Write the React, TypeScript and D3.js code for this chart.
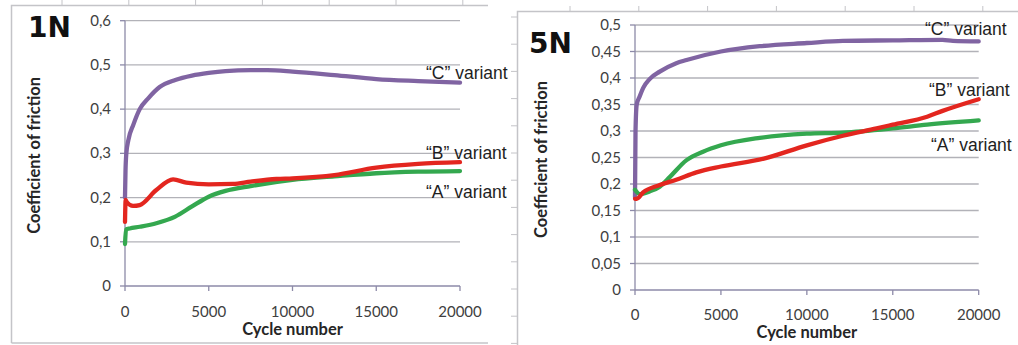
import React from "react";
import * as d3 from "d3";

// ---- 1N test: cycle positions and coefficient of friction ----
const cyclesC1 = [0, 30, 80, 200, 500, 880, 1400, 2070, 3000, 4000, 5000, 6000, 7500, 8500, 10000, 12500, 15000, 17500, 20000];
const frictionC1 = [0.2, 0.26, 0.3, 0.33, 0.365, 0.4, 0.425, 0.45, 0.466, 0.476, 0.482, 0.486, 0.488, 0.488, 0.485, 0.477, 0.468, 0.4635, 0.46];

const cyclesB1 = [0, 40, 100, 480, 880, 1870, 2870, 3660, 5000, 6450, 7500, 9040, 10000, 12500, 15000, 17500, 20000];
const frictionB1 = [0.145, 0.195, 0.19, 0.181, 0.183, 0.217, 0.241, 0.234, 0.23, 0.231, 0.236, 0.242, 0.2435, 0.251, 0.2676, 0.276, 0.28];

const cyclesA1 = [0, 60, 280, 880, 1870, 3000, 4000, 5000, 6000, 7500, 10000, 12500, 15000, 17500, 20000];
const frictionA1 = [0.095, 0.128, 0.13, 0.134, 0.142, 0.157, 0.18, 0.202, 0.215, 0.226, 0.24, 0.248, 0.255, 0.2585, 0.26];

// ---- 5N test ----
const cyclesC5 = [0, 30, 100, 270, 470, 850, 1440, 2400, 3000, 5000, 7260, 10000, 12100, 15000, 17900, 18500, 20000];
const frictionC5 = [0.175, 0.3, 0.35, 0.365, 0.381, 0.398, 0.412, 0.428, 0.434, 0.45, 0.46, 0.466, 0.47, 0.471, 0.472, 0.47, 0.469];

const cyclesB5 = [0, 100, 470, 1440, 2400, 3570, 5000, 7500, 10000, 12100, 14060, 15000, 17000, 17900, 20000];
const frictionB5 = [0.172, 0.172, 0.184, 0.198, 0.208, 0.222, 0.233, 0.248, 0.273, 0.291, 0.305, 0.312, 0.327, 0.338, 0.36];

const cyclesA5 = [0, 270, 850, 1440, 2020, 3000, 3960, 5000, 7260, 10000, 12100, 15000, 17000, 20000];
const frictionA5 = [0.189, 0.181, 0.186, 0.195, 0.213, 0.245, 0.261, 0.273, 0.287, 0.295, 0.297, 0.305, 0.312, 0.32];

const xTicks = [0, 5000, 10000, 15000, 20000];
const yTicks1N = [0, 0.1, 0.2, 0.3, 0.4, 0.5, 0.6];
const yTicks5N = [0, 0.05, 0.1, 0.15, 0.2, 0.25, 0.3, 0.35, 0.4, 0.45, 0.5];

const seriesNames = ["“C” variant", "“B” variant", "“A” variant"];
const colors = { C: "#8064a2", B: "#e3261f", A: "#34a84f" };

const zip = (xs: number[], ys: number[]) => xs.map((x, i) => [x, ys[i]] as [number, number]);

type Panel = {
  title: string;
  titleX: number;
  titleY: number;
  x0: number;
  x1: number;
  yBottom: number;
  yTop: number;
  yMax: number;
  yTicks: number[];
  series: { key: "A" | "B" | "C"; pts: [number, number][] }[];
  labels: { name: string; x: number; y: number }[];
  xLabelY: number;
  xTitleY: number;
  yTitleX: number;
};

const panels: Panel[] = [
  {
    title: "1N",
    titleX: 28,
    titleY: 37,
    x0: 125,
    x1: 460,
    yBottom: 286,
    yTop: 20.7,
    yMax: 0.6,
    yTicks: yTicks1N,
    series: [
      { key: "C", pts: zip(cyclesC1, frictionC1) },
      { key: "A", pts: zip(cyclesA1, frictionA1) },
      { key: "B", pts: zip(cyclesB1, frictionB1) },
    ],
    labels: [
      { name: seriesNames[0], x: 426, y: 79 },
      { name: seriesNames[1], x: 426, y: 159 },
      { name: seriesNames[2], x: 426, y: 198 },
    ],
    xLabelY: 317,
    xTitleY: 335,
    yTitleX: 34,
  },
  {
    title: "5N",
    titleX: 529,
    titleY: 53,
    x0: 635,
    x1: 978.7,
    yBottom: 290,
    yTop: 25,
    yMax: 0.5,
    yTicks: yTicks5N,
    series: [
      { key: "C", pts: zip(cyclesC5, frictionC5) },
      { key: "A", pts: zip(cyclesA5, frictionA5) },
      { key: "B", pts: zip(cyclesB5, frictionB5) },
    ],
    labels: [
      { name: seriesNames[0], x: 925, y: 35 },
      { name: seriesNames[1], x: 929, y: 96 },
      { name: seriesNames[2], x: 931, y: 151 },
    ],
    xLabelY: 320,
    xTitleY: 338,
    yTitleX: 541,
  },
];

const fmt = (v: number) => String(+v.toFixed(2)).replace(".", ",");

const labelFont = "Lato, 'Open Sans', sans-serif";
const noteFont = "'Liberation Sans', Arial, sans-serif";

function FrictionPanel({ p }: { p: Panel }) {
  const x = d3.scaleLinear().domain([0, 20000]).range([p.x0, p.x1]);
  const y = d3.scaleLinear().domain([0, p.yMax]).range([p.yBottom, p.yTop]);
  const line = d3
    .line<[number, number]>()
    .x((d) => x(d[0]))
    .y((d) => y(d[1]))
    .curve(d3.curveMonotoneX);
  const midX = (p.x0 + p.x1) / 2;
  const midY = (p.yBottom + p.yTop) / 2;

  return (
    <g>
      {p.yTicks.map((t) => (
        <g key={t}>
          {t > 0 && (
            <line x1={p.x0} x2={p.x1} y1={y(t)} y2={y(t)} stroke="#b2b2b8" strokeWidth={1.3} />
          )}
          <line x1={p.x0 - 5} x2={p.x0} y1={y(t)} y2={y(t)} stroke="#8d8aa8" strokeWidth={1.3} />
          <text
            x={p.x0 - 14}
            y={y(t) + 5}
            textAnchor="end"
            fontFamily={labelFont}
            fontSize={15}
            fill="#404040"
          >
            {fmt(t)}
          </text>
        </g>
      ))}
      <line x1={p.x0} x2={p.x0} y1={p.yTop} y2={p.yBottom} stroke="#8d8aa8" strokeWidth={1.3} />
      <line x1={p.x0} x2={p.x1} y1={p.yBottom} y2={p.yBottom} stroke="#8d8aa8" strokeWidth={1.3} />
      {xTicks.map((t) => (
        <g key={t}>
          <line x1={x(t)} x2={x(t)} y1={p.yBottom} y2={p.yBottom + 5} stroke="#8d8aa8" strokeWidth={1.3} />
          <text
            x={x(t)}
            y={p.xLabelY}
            textAnchor="middle"
            fontFamily={labelFont}
            fontSize={15}
            fill="#404040"
          >
            {t}
          </text>
        </g>
      ))}
      <text
        x={midX}
        y={p.xTitleY}
        textAnchor="middle"
        fontFamily={labelFont}
        fontWeight="bold"
        fontSize={16.5}
        fill="#262626"
      >
        Cycle number
      </text>
      <text
        transform={`translate(${p.yTitleX + 6},${midY + 2}) rotate(-90)`}
        textAnchor="middle"
        fontFamily={labelFont}
        fontWeight="bold"
        fontSize={16.5}
        fill="#262626"
      >
        Coefficient of friction
      </text>
      {p.series.map((s) => (
        <path
          key={s.key}
          d={line(s.pts) || ""}
          fill="none"
          stroke={colors[s.key]}
          strokeWidth={4.3}
          strokeLinejoin="round"
          strokeLinecap="round"
        />
      ))}
      {p.labels.map((l) => (
        <text key={l.name} x={l.x} y={l.y} fontFamily={noteFont} fontSize={17.5} fill="#1e1e1e">
          {l.name}
        </text>
      ))}
      <text
        x={p.titleX}
        y={p.titleY}
        fontFamily="'DejaVu Sans', sans-serif"
        fontWeight="bold"
        fontSize={28}
        fill="#111"
      >
        {p.title}
      </text>
    </g>
  );
}

export default function App() {
  const frameColor = "#c4c4c8";
  const topTicksLeft = d3.range(62, 470, 66.8);
  const topTicksRight = d3.range(570, 1000, 68.8);
  const sideTicksRight = d3.range(17, 345, 27.2);
  return (
    <svg
      width={1018}
      height={345}
      style={{ position: "fixed", left: 0, top: 0, background: "#fff" }}
    >
      <rect width={1018} height={345} fill="#fff" />
      {/* panel frames */}
      <path d="M11.5,343 V5.5 H488" fill="none" stroke={frameColor} strokeWidth={1.5} />
      <line x1={11.5} x2={488} y1={343} y2={343} stroke={frameColor} strokeWidth={1.5} />
      {topTicksLeft.map((t) => (
        <line key={t} x1={t} x2={t} y1={0} y2={5.5} stroke={frameColor} strokeWidth={1} />
      ))}
      <path d="M517.5,345 V11.5 H1018" fill="none" stroke={frameColor} strokeWidth={1.5} />
      {topTicksRight.map((t) => (
        <line key={t} x1={t} x2={t} y1={6} y2={11.5} stroke={frameColor} strokeWidth={1} />
      ))}
      {sideTicksRight.map((t) => (
        <line key={t} x1={511} x2={517.5} y1={t} y2={t} stroke={frameColor} strokeWidth={1} />
      ))}
      {panels.map((p) => (
        <FrictionPanel key={p.title} p={p} />
      ))}
    </svg>
  );
}
